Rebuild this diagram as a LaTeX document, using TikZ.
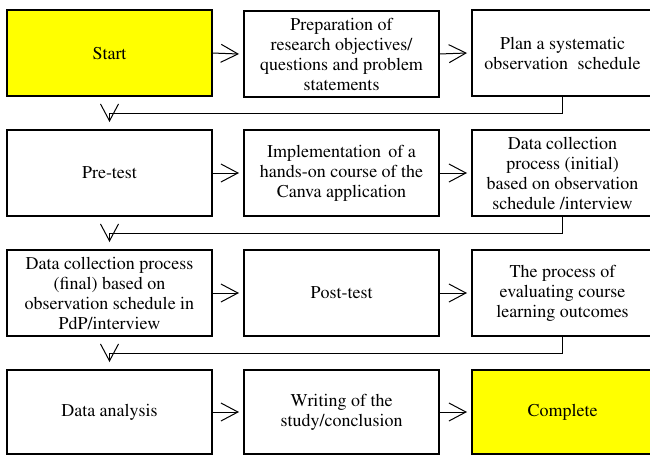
\documentclass[tikz,border=0pt]{standalone}
\usepackage[T1]{fontenc}
\renewcommand{\rmdefault}{ptm}
\usetikzlibrary{arrows.meta,calc}
\definecolor{boxyellow}{HTML}{FFFF00}
\tikzset{
  stepbox/.style={draw=black, line width=2pt, rectangle, outer sep=0pt, inner sep=2pt,
    align=center, font=\rmfamily\fontsize{18}{20}\selectfont, text=black},
  w1/.style={minimum width=205pt},
  w2/.style={minimum width=195pt},
  w3/.style={minimum width=181pt},
  hrow/.style={minimum height=86pt},
  hilite/.style={fill=boxyellow},
  arr/.style={line width=1pt, -{Straight Barb[length=17pt,width=18pt,line width=1pt]}},
}
\begin{document}
\begin{tikzpicture}[x=1pt,y=-1pt]
\useasboundingbox (0,0) rectangle (650,455);
% row 1
\node[stepbox,w1,hrow,hilite] (r1c1) at (109.5,53) {Start};
\node[stepbox,w2,hrow] (r1c2) at (341.5,54) {Preparation of\\research objectives/\\questions and problem\\statements};
\node[stepbox,w3,hrow] (r1c3) at (562.5,53) {Plan a systematic\\observation\hspace{5pt} schedule};
% row 2
\node[stepbox,w1,hrow] (r2c1) at (109.5,173) {Pre-test};
\node[stepbox,w2,hrow] (r2c2) at (341.5,173) {Implementation\hspace{3pt} of a\\hands-on course of the\\Canva application};
\node[stepbox,w3,hrow] (r2c3) at (562.5,173) {Data collection\\process (initial)\\based on observation\\schedule /interview};
% row 3
\node[stepbox,w1,hrow] (r3c1) at (109.5,293) {Data collection process\\(final) based on\\observation schedule in\\PdP/interview};
\node[stepbox,w2,hrow] (r3c2) at (341.5,293) {Post-test};
\node[stepbox,w3,hrow] (r3c3) at (562.5,293) {The process of\\evaluating course\\learning outcomes};
% row 4
\node[stepbox,w1,minimum height=84pt] (r4c1) at (109.5,412) {Data analysis};
\node[stepbox,w2,minimum height=84pt] (r4c2) at (341.5,412) {Writing of the\\study/conclusion};
\node[stepbox,w3,minimum height=84pt,hilite] (r4c3) at (562.5,412) {Complete};
% horizontal arrows
\foreach \r in {1,2,3,4}{
  \draw[arr] (r\r c1.east) -- ($(r\r c2.west)+(-5,0)$);
  \draw[arr] (r\r c2.east) -- ($(r\r c3.west)+(-5,0)$);
}
% row-to-row connectors
\draw[arr] (r1c3.south) -- ++(0,17) -| ($(r2c1.north)+(0,-8)$);
\draw[arr] (r2c3.south) -- ++(0,17) -| ($(r3c1.north)+(0,-8)$);
\draw[arr] (r3c3.south) -- ++(0,17) -| ($(r4c1.north)+(0,-8)$);
\end{tikzpicture}
\end{document}
